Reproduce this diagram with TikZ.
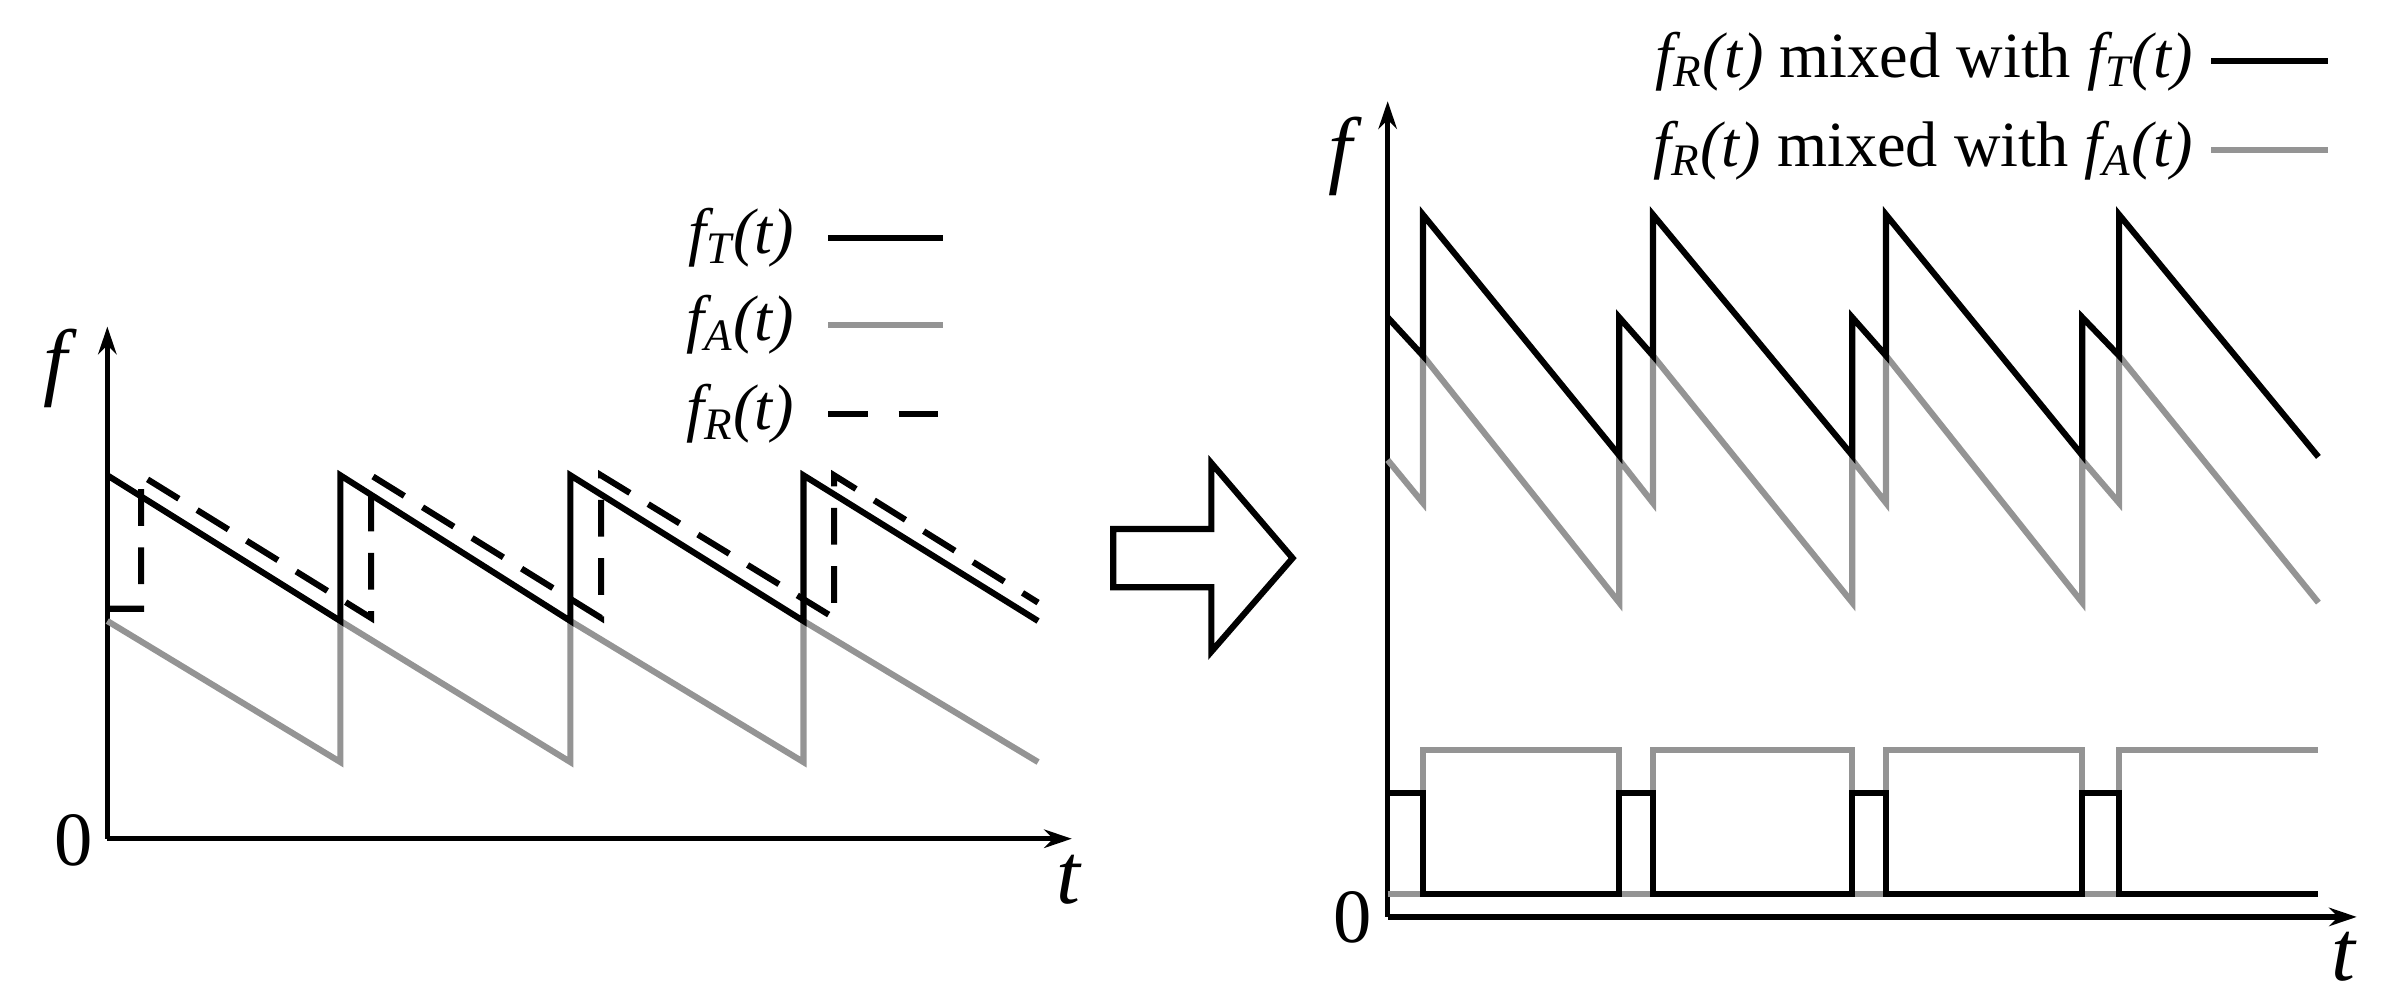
\documentclass[tikz,border=0pt]{standalone}
\usepackage{fontspec}
\setmainfont{Liberation Serif}
\usetikzlibrary{arrows.meta}
\begin{document}
\begin{tikzpicture}[x=0.5pt,y=-0.5pt,
  blk/.style={line width=2pt,black,line join=miter},
  gry/.style={line width=2pt,black!42},
  dsh/.style={line width=2pt,black,dash pattern=on 12pt off 7pt},
  axis/.style={line width=1.7pt,-{Stealth[length=9pt,width=6pt]}},
  lbl/.style={font=\fontsize{28}{30}\selectfont\itshape},
  zer/.style={font=\fontsize{25}{28}\selectfont},
  leg/.style={font=\fontsize{21}{24}\selectfont,anchor=east}]
\useasboundingbox (0,0) rectangle (1560,652);
% left plot
\coordinate (o1) at (70,547);
\coordinate (y1) at (70,213);
\coordinate (x1) at (699,547);
\draw[axis] (o1) -- (y1);
\draw[axis] (o1) -- (x1);
\node[lbl] (f1) at (36,240) {f};
\node[zer] (z1) at (48,548) {0};
\node[lbl] (t1) at (697,574) {t};
\draw[gry] (70,405)--(222,497)--(222,405)--(372,497)--(372,405)--(524,497)--(524,405)--(677,497);
\draw[dsh] (70,397)--(92,397)--(92,310)--(242,403)--(242,310)--(392,403)--(392,310)--(544,403)--(544,310)--(677,393);
\draw[blk] (70,310)--(222,405)--(222,310)--(372,405)--(372,310)--(524,405)--(524,310)--(677,405);
\node[leg] (l1) at (525,155) {\textit{f\textsubscript{T}(t)}};
\draw[blk] (540,155)--(615,155);
\node[leg] (l2) at (525,212) {\textit{f\textsubscript{A}(t)}};
\draw[gry] (540,212)--(615,212);
\node[leg] (l3) at (525,270) {\textit{f\textsubscript{R}(t)}};
\draw[line width=2pt,dash pattern=on 13pt off 10pt] (540,270)--(615,270);
% big arrow
\draw[line width=2pt,line join=miter,fill=white] (726,345)--(790,345)--(790,302)--(843,364)--(790,425)--(790,383)--(726,383)--cycle;
% right plot
\coordinate (o2) at (905,598);
\coordinate (y2) at (905,66);
\coordinate (x2) at (1537,598);
\draw[axis] (o2) -- (y2);
\draw[axis] (o2) -- (x2);
\node[lbl] (f2) at (874,102) {f};
\node[zer] (z2) at (882,598) {0};
\node[lbl] (t2) at (1528,624) {t};
\draw[gry] (905,300)--(928,328)--(928,232)--(1056,393)--(1056,300)--(1078,328)--(1078,232)--(1208,393)--(1208,300)--(1230,328)--(1230,232)--(1358,393)--(1358,300)--(1382,328)--(1382,232)--(1512,393);
\draw[blk] (905,207)--(928,232)--(928,140)--(1056,297)--(1056,207)--(1078,232)--(1078,140)--(1208,297)--(1208,207)--(1230,232)--(1230,140)--(1358,297)--(1358,207)--(1382,232)--(1382,140)--(1512,298);
\draw[gry] (905,583)--(1512,583);
\draw[gry] (928,583)--(928,489)--(1056,489)--(1056,583) (1078,583)--(1078,489)--(1208,489)--(1208,583) (1230,583)--(1230,489)--(1358,489)--(1358,583) (1382,583)--(1382,489)--(1512,489);
\draw[blk] (905,517)--(928,517)--(928,583)--(1056,583)--(1056,517)--(1078,517)--(1078,583)--(1208,583)--(1208,517)--(1230,517)--(1230,583)--(1358,583)--(1358,517)--(1382,517)--(1382,583)--(1512,583);
\node[leg] (r1) at (1437,40) {\textit{f\textsubscript{R}(t)} mixed with \textit{f\textsubscript{T}(t)}};
\draw[blk] (1442,40)--(1518,40);
\node[leg] (r2) at (1437,98) {\textit{f\textsubscript{R}(t)} mixed with \textit{f\textsubscript{A}(t)}};
\draw[gry] (1442,98)--(1518,98);
\end{tikzpicture}
\end{document}
